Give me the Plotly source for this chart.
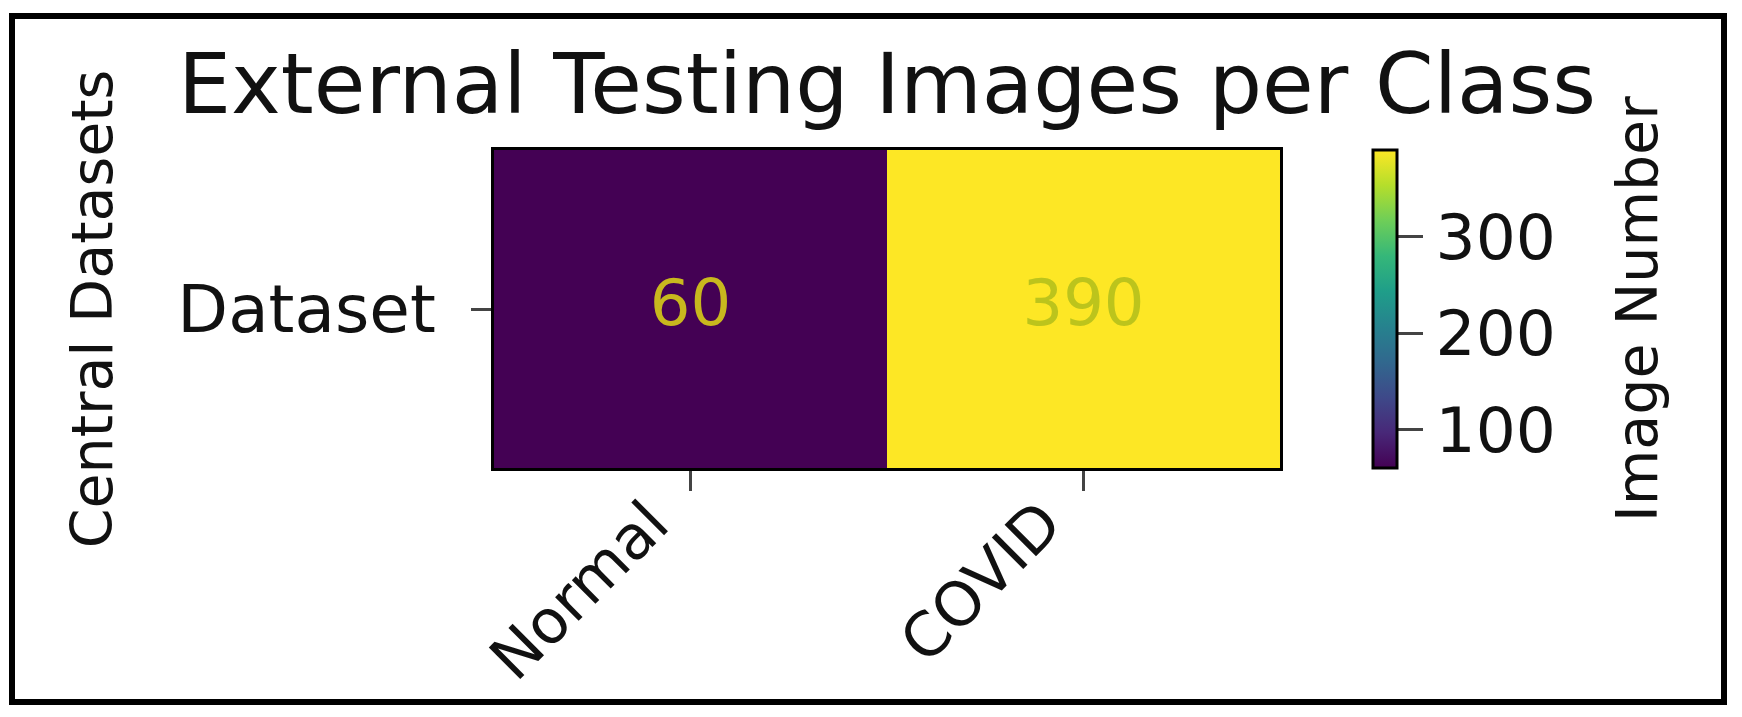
import plotly.graph_objects as go

classes = ["Normal", "COVID"]
rows = ["Dataset"]
counts = [[60, 390]]
cbar_ticks = [100, 200, 300]

W, H = 1742, 717
L, R, T, B = 494, 1280, 150, 468  # plot area in px
FONT = "DejaVu Sans"


def px_x(p):
    return (p - L) / (R - L)


def px_y(p):
    return (B - p) / (B - T)


fig = go.Figure()
fig.add_trace(go.Heatmap(
    x=classes, y=rows, z=counts,
    colorscale="Viridis",
    colorbar=dict(
        x=px_x(1373), xanchor="left", xpad=0,
        y=0.5, yanchor="middle", ypad=0,
        len=1, lenmode="fraction", thickness=24,
        outlinewidth=3, outlinecolor="black",
        tickvals=cbar_ticks, ticks="outside", ticklen=25, tickwidth=3,
        tickfont=dict(family=FONT, size=63, color="#111"),
    ),
    hoverinfo="skip",
))

# cell value labels
fig.add_trace(go.Scatter(
    x=classes, y=rows * len(classes),
    text=[str(v) for v in counts[0]],
    mode="text",
    textfont=dict(family=FONT, size=64, color=["#c8b81e", "#bcc41c"]),
    showlegend=False, hoverinfo="skip",
))

fig.update_layout(
    width=W, height=H,
    margin=dict(l=L, r=W - R, t=T, b=H - B, autoexpand=False),
    paper_bgcolor="white", plot_bgcolor="white",
    title=dict(text="External Testing Images per Class",
               x=0.5, xref="paper", xanchor="center",
               y=1 - 84 / H, yref="container", yanchor="middle",
               font=dict(family=FONT, size=84, color="#111")),
    font=dict(family=FONT, color="#111"),
    shapes=[dict(type="rect", xref="paper", yref="paper",
                 x0=px_x(12), x1=px_x(1724), y0=px_y(702), y1=px_y(16),
                 line=dict(color="black", width=6))],
    annotations=[dict(text="Image Number", textangle=-90,
                      xref="paper", yref="paper", x=px_x(1637), y=0.5,
                      xanchor="center", yanchor="middle", showarrow=False,
                      font=dict(family=FONT, size=57, color="#111"))],
)
fig.update_xaxes(
    tickangle=-45, ticks="outside", ticklen=20, tickwidth=3,
    ticklabelshift=-40, ticklabelstandoff=-28, automargin=False,
    tickfont=dict(family=FONT, size=61, color="#111"),
    showline=True, mirror=True, linewidth=3, linecolor="black",
    showgrid=False, zeroline=False,
)
fig.update_yaxes(
    ticks="outside", ticklen=20, tickwidth=3,
    ticklabelstandoff=22, automargin=False,
    tickfont=dict(family=FONT, size=66, color="#111"),
    title=dict(text="Central Datasets", standoff=47,
               font=dict(family=FONT, size=57, color="#111")),
    showline=True, mirror=True, linewidth=3, linecolor="black",
    showgrid=False, zeroline=False,
)

fig.write_html("out.html", config={"displayModeBar": False},
               post_script="document.body.style.margin='0';")
